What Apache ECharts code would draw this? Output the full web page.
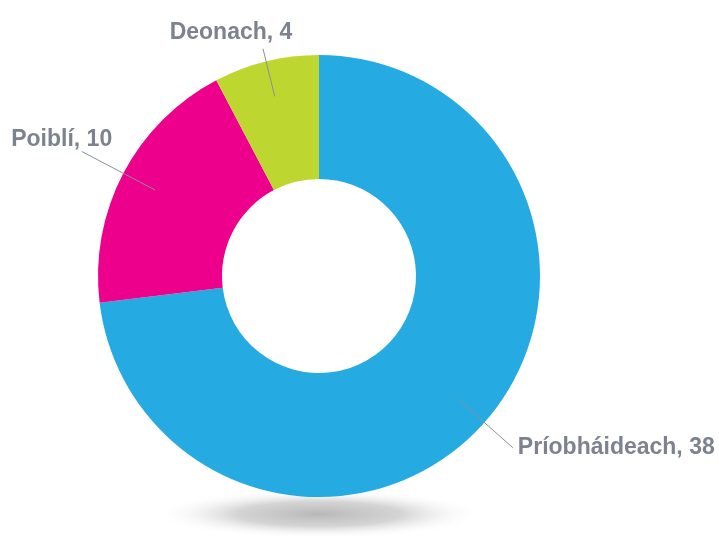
<!DOCTYPE html>
<html>
<head>
<meta charset="utf-8">
<script src="https://cdn.jsdelivr.net/npm/echarts@6/dist/echarts.min.js"></script>
<style>
  html, body { margin: 0; padding: 0; background: #fff; }
  #main { width: 719px; height: 536px; }
</style>
</head>
<body>
<div id="main"></div>
<script>
'use strict'
// sectors, clockwise from 12 o'clock
var categories = ['Príobháideach', 'Poiblí', 'Deonach']
var values = [38, 10, 4]
var colors = ['#25aae1', '#ec008c', '#bed730']
var lineLengths = [74, 83, 49]

var myChart = echarts.init(document.getElementById('main'))

var ringData = []
var labelData = []
for (var i = 0; i < categories.length; i++) {
    ringData.push({ name: categories[i], value: values[i], itemStyle: { color: colors[i] } })
    labelData.push({
        name: categories[i],
        value: values[i],
        labelLine: { length: lineLengths[i], length2: 0 }
    })
}

var option = {
    backgroundColor: '#ffffff',
    animation: false,
    graphic: [
        {
            // soft shadow under the ring
            type: 'circle',
            x: 319, y: 514,
            scaleY: 0.15,
            z: -10,
            silent: true,
            shape: { cx: 0, cy: 0, r: 165 },
            style: {
                fill: new echarts.graphic.RadialGradient(0.5, 0.5, 0.5, [
                    { offset: 0, color: 'rgba(184,184,184,1)' },
                    { offset: 0.5, color: 'rgba(205,205,205,0.85)' },
                    { offset: 1, color: 'rgba(255,255,255,0)' }
                ])
            }
        }
    ],
    series: [
        {
            type: 'pie',
            center: [319, 276],
            radius: [97, 221],
            startAngle: 90,
            clockwise: true,
            silent: true,
            z: 2,
            label: { show: false },
            labelLine: { show: false },
            itemStyle: { borderWidth: 0 },
            data: ringData
        },
        {
            // invisible pie used only to place labels and their guide lines
            type: 'pie',
            center: [319, 276],
            radius: [0, 185],
            startAngle: 90,
            clockwise: true,
            silent: true,
            z: 3,
            itemStyle: { color: 'rgba(0,0,0,0)' },
            label: {
                show: true,
                position: 'outside',
                formatter: '{b}, {c}',
                color: '#7c838e',
                fontFamily: 'Liberation Sans, Arial, sans-serif',
                fontWeight: 'bold',
                fontSize: 23,
                overflow: 'none',
                distanceToLabelLine: 5
            },
            labelLine: {
                show: true,
                lineStyle: { color: '#8a9097', width: 1 }
            },
            labelLayout: function (p) {
                if (p.dataIndex === 2) return { align: 'center', verticalAlign: 'bottom', dx: -27, dy: -5 }
                if (p.dataIndex === 1) return { align: 'center', verticalAlign: 'bottom', dx: -15, dy: 0 }
                return {}
            },
            data: labelData
        }
    ]
}
myChart.setOption(option)
</script>
</body>
</html>
